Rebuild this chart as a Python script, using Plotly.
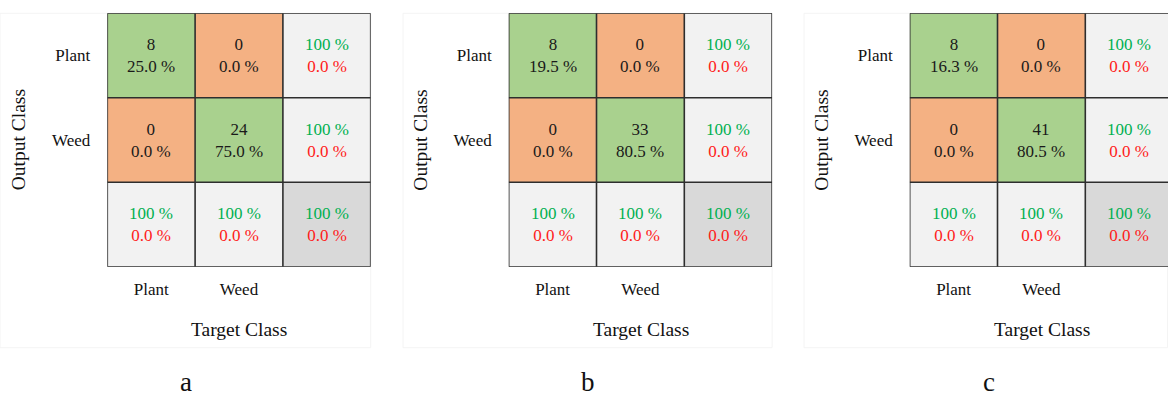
import plotly.graph_objects as go

# ---- data -------------------------------------------------------------
classes = ["Plant", "Weed"]
panel_letters = ["a", "b", "c"]

# confusion counts per panel (rows = output class, cols = target class)
counts_a = [[8, 0], [0, 24]]
counts_b = [[8, 0], [0, 33]]
counts_c = [[8, 0], [0, 41]]

# percentage of total shown in each cell
pct_a = [[25.0, 0.0], [0.0, 75.0]]
pct_b = [[19.5, 0.0], [0.0, 80.5]]
pct_c = [[16.3, 0.0], [0.0, 80.5]]

# per-row / per-column / overall summary (correct %, error %)
row_correct = [[100, 100], [100, 100], [100, 100]]
row_error = [[0.0, 0.0], [0.0, 0.0], [0.0, 0.0]]
col_correct = [[100, 100], [100, 100], [100, 100]]
col_error = [[0.0, 0.0], [0.0, 0.0], [0.0, 0.0]]
overall_correct = [100, 100, 100]
overall_error = [0.0, 0.0, 0.0]

counts = [counts_a, counts_b, counts_c]
pcts = [pct_a, pct_b, pct_c]

# ---- styling ----------------------------------------------------------
W, H = 1168, 398
GREEN_BG = "#A9D18E"
ORANGE_BG = "#F4B183"
LIGHT_BG = "#F2F2F2"
DARK_BG = "#D9D9D9"
GREEN_TXT = "#00B050"
RED_TXT = "#FF1A1A"
EDGE = "#2e2e2e"
FONT = "Liberation Serif"

grid_left = [107.3, 508.7, 909.7]   # px, left edge of each matrix
grid_w = 263.4
grid_top, grid_bot = 13.3, 266.7
frame_left = [0, 403, 804]

colorscale = [
    [0.0, GREEN_BG], [0.25, GREEN_BG],
    [0.25, ORANGE_BG], [0.5, ORANGE_BG],
    [0.5, LIGHT_BG], [0.75, LIGHT_BG],
    [0.75, DARK_BG], [1.0, DARK_BG],
]

fig = go.Figure()
annotations = []
shapes = []


def px_x(v):
    return v / W


def px_y(v):
    return 1 - v / H


def cell_note(x, y, xa, ya, text, color=None):
    f = dict(family=FONT, size=17)
    if color:
        f["color"] = color
    return dict(x=x, y=y, xref=xa, yref=ya, showarrow=False, text=text,
                xanchor="center", yanchor="middle", font=f)


def summary_text(good, bad):
    return (f"<span style='color:{GREEN_TXT}'>{good} %</span><br>"
            f"<span style='color:{RED_TXT}'>{bad:.1f} %</span>")


for k in range(3):
    xa = "x" if k == 0 else f"x{k + 1}"
    ya = "y" if k == 0 else f"y{k + 1}"
    cnt = counts[k]
    pc = pcts[k]

    # colour category of each cell: 0 correct, 1 wrong, 2 summary, 3 overall
    z = []
    for r in range(3):
        row = []
        for c in range(3):
            if r < 2 and c < 2:
                row.append(0 if r == c else 1)
            elif r == 2 and c == 2:
                row.append(3)
            else:
                row.append(2)
        z.append(row)

    fig.add_trace(go.Heatmap(
        z=z, x=[0, 1, 2], y=[0, 1, 2],
        colorscale=colorscale, zmin=-0.5, zmax=3.5,
        showscale=False, hoverinfo="skip",
        xaxis=xa, yaxis=ya,
    ))

    # cell texts
    for r in range(2):
        for c in range(2):
            annotations.append(cell_note(c, r, xa, ya,
                                         f"{cnt[r][c]}<br>{pc[r][c]:.1f} %", "#1a1a1a"))
    for r in range(2):
        annotations.append(cell_note(2, r, xa, ya,
                                     summary_text(row_correct[k][r], row_error[k][r])))
    for c in range(2):
        annotations.append(cell_note(c, 2, xa, ya,
                                     summary_text(col_correct[k][c], col_error[k][c])))
    annotations.append(cell_note(2, 2, xa, ya,
                                 summary_text(overall_correct[k], overall_error[k])))

    # the last matrix runs past the page edge: trim its domain and range together
    left = grid_left[k]
    right = min(left + grid_w, W)
    x_hi = -0.5 + 3 * (right - left) / grid_w

    # cell borders
    for v in [-0.5, 0.5, 1.5, 2.5]:
        if v <= x_hi + 1e-9:
            shapes.append(dict(type="line", xref=xa, yref=ya, x0=v, x1=v, y0=-0.5, y1=2.5,
                               line=dict(color=EDGE, width=1.6)))
        shapes.append(dict(type="line", xref=xa, yref=ya, x0=-0.5, x1=min(2.5, x_hi), y0=v, y1=v,
                           line=dict(color=EDGE, width=1.6)))

    # faint outline of each sub-figure
    shapes.append(dict(type="rect", xref="paper", yref="paper",
                       x0=px_x(frame_left[k]), x1=px_x(min(left + grid_w, W - 0.5)),
                       y0=px_y(347.7), y1=px_y(13.3),
                       line=dict(color="#f4f4f4", width=1), layer="below"))

    fig.update_layout(**{
        ("xaxis" if k == 0 else f"xaxis{k + 1}"): dict(
            domain=[px_x(left), px_x(right)],
            anchor=ya, range=[-0.5, x_hi], tickvals=[0, 1], ticktext=classes,
            showgrid=False, zeroline=False, showline=False, ticks="",
            tickfont=dict(family=FONT, size=17, color="#111"),
            ticklabelstandoff=10, fixedrange=True,
        ),
        ("yaxis" if k == 0 else f"yaxis{k + 1}"): dict(
            domain=[px_y(grid_bot), px_y(grid_top)],
            anchor=xa, range=[2.5, -0.5], tickvals=[0, 1], ticktext=classes,
            showgrid=False, zeroline=False, showline=False, ticks="",
            tickfont=dict(family=FONT, size=17, color="#111"),
            ticklabelstandoff=16, fixedrange=True,
        ),
    })

    # axis titles and panel letter
    annotations.append(dict(
        x=px_x(left - 89), y=px_y(140), xref="paper", yref="paper",
        xanchor="center", yanchor="middle",
        text="Output Class", textangle=-90, showarrow=False,
        font=dict(family=FONT, size=19.5, color="#111"),
    ))
    annotations.append(dict(
        x=px_x(left + 132), y=px_y(329), xref="paper", yref="paper",
        xanchor="center", yanchor="middle",
        text="Target Class", showarrow=False,
        font=dict(family=FONT, size=19.5, color="#111"),
    ))
    annotations.append(dict(
        x=px_x(left + 79), y=0, xref="paper", yref="paper",
        xanchor="center", yanchor="bottom", borderpad=0,
        text=panel_letters[k], showarrow=False,
        font=dict(family=FONT, size=27, color="#111"),
    ))

fig.update_layout(
    width=W, height=H,
    margin=dict(l=0, r=0, t=0, b=0),
    paper_bgcolor="white", plot_bgcolor="white",
    annotations=annotations, shapes=shapes,
    showlegend=False,
)

fig.write_html("out.html")
